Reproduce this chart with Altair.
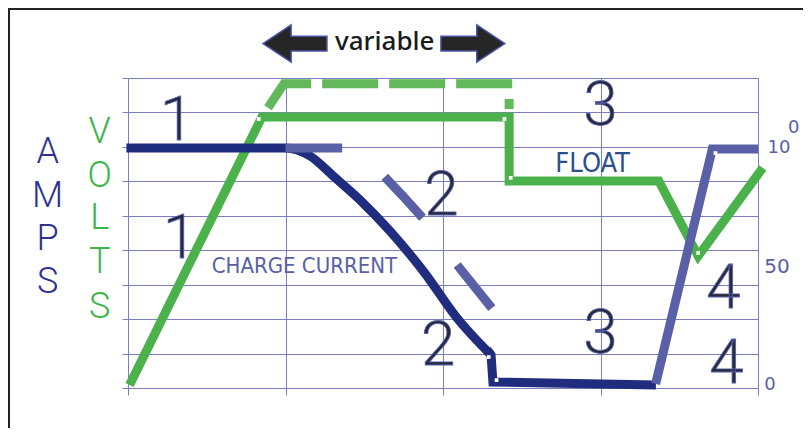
import altair as alt
import pandas as pd

# time in grid columns (0-4), level in grid rows (0-9)
volts_t = [0.01, 0.85, 2.42, 2.42, 3.37, 3.62, 4.03]
volts_v = [0.09, 7.87, 7.87, 6.01, 6.01, 3.83, 6.39]

volts_var_t = [0.85, 0.99, 2.44]
volts_var_v = [7.87, 8.83, 8.83]
volts_var2_t = [2.42, 2.42]
volts_var2_v = [8.39, 8.10]

amps_t = [-0.01, 0.997, 1.156, 1.302, 1.473, 1.663, 1.879, 2.089, 2.305]
amps_a = [6.969, 6.969, 6.736, 6.156, 5.459, 4.559, 3.368, 2.032, 0.958]
amps_tail_t = [2.280, 2.305, 2.317, 3.352]
amps_tail_a = [1.110, 0.958, 0.174, 0.087]

amps_var_seg = ["a", "a", "b", "b", "b", "c", "c"]
amps_var_t = [1.00, 1.36, 1.63, 1.75, 1.87, 2.09, 2.31]
amps_var_a = [6.97, 6.97, 6.13, 5.55, 4.94, 3.57, 2.32]

amps_rise_t = [3.35, 3.71, 4.00]
amps_rise_a = [0.12, 6.94, 6.94]

joint_t = [0.83, 2.39, 2.43, 2.29, 2.34, 3.73, 3.62]
joint_v = [7.81, 7.81, 6.10, 0.90, 0.23, 6.82, 3.92]

digit_labels = ["1", "1", "2", "2", "3", "3", "4", "4"]
digit_t = [0.31, 0.33, 1.99, 1.97, 3.00, 3.00, 3.78, 3.80]
digit_v = [7.20, 3.78, 5.02, 0.67, 7.64, 1.02, 2.32, 0.15]

amps_letters = ["A", "M", "P", "S"]
amps_letter_v = [6.53, 5.26, 4.01, 2.76]
volts_letters = ["V", "O", "L", "T", "S"]
volts_letter_v = [7.11, 5.84, 4.62, 3.34, 2.03]

right_labels = ["10", "0", "50", "0"]
right_t = [4.06, 4.19, 4.04, 4.04]
right_v = [6.82, 7.40, 3.34, -0.06]
right_fs = [18, 18, 20, 18]

arrow_dir = ["left", "right"]
arrow_t = [1.06, 2.19]
arrow_v = [10.0, 10.0]

GRID = "#7a7ebf"
xs = alt.Scale(domain=[0, 4], nice=False, zero=False)
ys = alt.Scale(domain=[0, 9], nice=False, zero=False)
x_axis = alt.Axis(values=[0, 1, 2, 3, 4], grid=True, labels=False, title=None, domain=False,
                  tickSize=7, tickColor=GRID, tickWidth=1, gridColor=GRID, gridWidth=1,
                  gridOpacity=1)
y_axis = alt.Axis(values=list(range(10)), grid=True, labels=False, title=None, domain=False,
                  tickSize=6, tickColor=GRID, tickWidth=1, gridColor=GRID, gridWidth=1,
                  gridOpacity=1)
X = alt.X("t:Q", scale=xs, axis=x_axis)
Y = alt.Y("v:Q", scale=ys, axis=y_axis)


def line(t, v, color, dash=None, seg=None, interp=None):
    df = pd.DataFrame({"t": t, "v": v, "i": list(range(len(t)))})
    if seg is not None:
        df["seg"] = seg
    kw = dict(color=color, strokeWidth=9, strokeCap="butt", strokeJoin="miter")
    if dash:
        kw["strokeDash"] = dash
        kw["strokeDashOffset"] = dash[0]
    if interp:
        kw["interpolate"] = interp
    enc = dict(x=X, y=Y, order=alt.Order("i:Q"))
    if seg is not None:
        enc["detail"] = "seg:N"
    return alt.Chart(df).mark_line(**kw).encode(**enc)


def text(labels, t, v, **mk):
    df = pd.DataFrame({"label": labels, "t": t, "v": v})
    return alt.Chart(df).mark_text(baseline="alphabetic", **mk).encode(x=X, y=Y, text="label:N")


border_left = alt.Chart(pd.DataFrame({"k": [0]})).mark_rule(color="#222222", strokeWidth=2).encode(
    x=alt.value(-119), y=alt.value(-70), y2=alt.value(352))
border_top = alt.Chart(pd.DataFrame({"k": [0]})).mark_rule(color="#222222", strokeWidth=2).encode(
    y=alt.value(-69), x=alt.value(-120), x2=alt.value(680))

volts = line(volts_t, volts_v, "#4bb14a")
volts_var = line(volts_var_t, volts_var_v, "#62b85a", dash=[56, 11])
volts_var2 = line(volts_var2_t, volts_var2_v, "#62b85a")
amps = line(amps_t, amps_a, "#202c7e", interp="monotone")
amps_tail = line(amps_tail_t, amps_tail_a, "#202c7e")
amps_var = line(amps_var_t, amps_var_a, "#5960a5", seg=amps_var_seg)
amps_rise = line(amps_rise_t, amps_rise_a, "#5960a5")

joints = alt.Chart(pd.DataFrame({"t": joint_t, "v": joint_v})).mark_square(
    size=14, color="white", opacity=1).encode(x=X, y=Y)

digits = text(digit_labels, digit_t, digit_v, font="Roboto", fontWeight=300, fontSize=62,
              align="center", color="#272a3b", stroke="#5b63b3", strokeWidth=0.8)
amps_txt = text(amps_letters, [-0.51] * 4, amps_letter_v, font="Roboto", fontWeight=300,
                fontSize=36, align="center", color="#2e3192")
volts_txt = text(volts_letters, [-0.18] * 5, volts_letter_v, font="Roboto", fontWeight=300,
                 fontSize=36, align="center", color="#3cb54a")
float_txt = text(["FLOAT"], [2.95], [6.27], font="Liberation Sans Narrow, DejaVu Sans Condensed, sans-serif",
                 fontSize=27, align="center", color="#2b4f8c")
charge_txt = text(["CHARGE CURRENT"], [1.12], [3.34],
                  font="Liberation Sans Narrow, DejaVu Sans Condensed, sans-serif",
                  fontSize=22, align="center", color="#5960a5")
variable_txt = text(["variable"], [1.63], [9.81], font="Noto Sans", fontWeight=500, fontSize=26,
                    align="center", color="#1a1a1a")

right_df = pd.DataFrame({"label": right_labels, "t": right_t, "v": right_v, "fs": right_fs})
right_txt = alt.Chart(right_df).mark_text(baseline="alphabetic", align="left", font="DejaVu Sans",
                                          color="#5960a5").encode(
    x=X, y=Y, text="label:N", size=alt.Size("fs:Q", scale=None),
)

path_left = "M -1 0 L -0.12 -0.58 L -0.12 -0.23 L 1 -0.23 L 1 0.23 L -0.12 0.23 L -0.12 0.58 Z"
path_right = "M 1 0 L 0.12 -0.58 L 0.12 -0.23 L -1 -0.23 L -1 0.23 L 0.12 0.23 L 0.12 0.58 Z"
arrows = alt.Chart(pd.DataFrame({"dir": arrow_dir, "t": arrow_t, "v": arrow_v})).mark_point(
    filled=True, size=4096, color="#262626", stroke="#4b54a6", strokeWidth=1.5, opacity=1).encode(
    x=X, y=Y,
    shape=alt.Shape("dir:N", scale=alt.Scale(domain=arrow_dir, range=[path_left, path_right]), legend=None),
)

chart = alt.layer(
    volts, volts_var, volts_var2, amps, amps_tail, amps_var, amps_rise, joints,
    digits, amps_txt, volts_txt, float_txt, charge_txt, variable_txt, right_txt, arrows,
    border_left, border_top,
).properties(
    width=630, height=310, autosize="none",
    padding={"left": 120, "top": 70, "right": 45, "bottom": 40},
).configure_view(strokeWidth=0).configure(background="white")

chart.save("out.html", embed_options={"renderer": "svg", "actions": False})
